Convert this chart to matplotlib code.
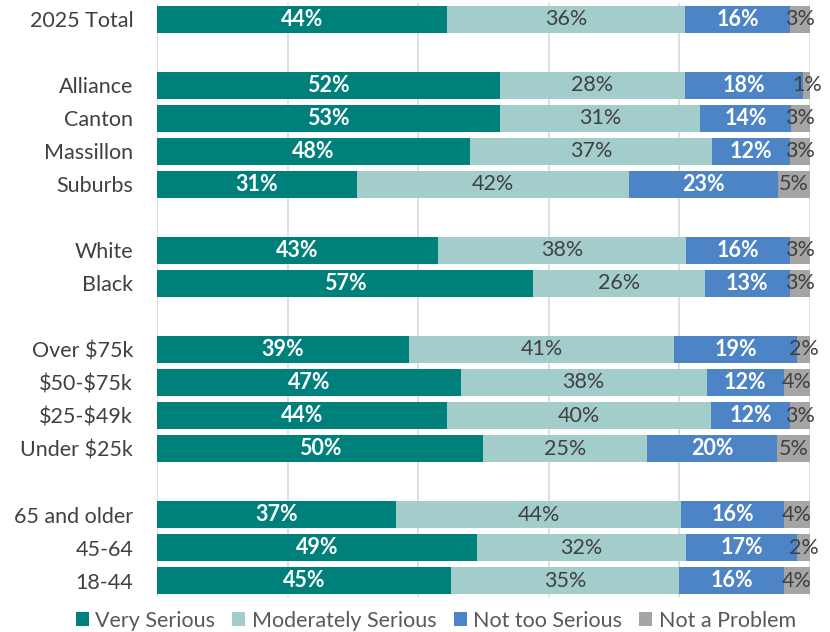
import matplotlib
matplotlib.use('Agg')
import matplotlib.pyplot as plt
import numpy as np

plt.rcParams['font.family'] = ['Lato', 'DejaVu Sans']

# Survey groups, top to bottom; None marks a spacer row between groups
groups = ['2025 Total', None,
          'Alliance', 'Canton', 'Massillon', 'Suburbs', None,
          'White', 'Black', None,
          'Over \\$75k', '\\$50-\\$75k', '\\$25-\\$49k', 'Under \\$25k', None,
          '65 and older', '45-64', '18-44']

very_serious = [44, None, 52, 53, 48, 31, None, 43, 57, None, 39, 47, 44, 50, None, 37, 49, 45]
moderately_serious = [36, None, 28, 31, 37, 42, None, 38, 26, None, 41, 38, 40, 25, None, 44, 32, 35]
not_too_serious = [16, None, 18, 14, 12, 23, None, 16, 13, None, 19, 12, 12, 20, None, 16, 17, 16]
not_a_problem = [3, None, 1, 3, 3, 5, None, 3, 3, None, 2, 4, 3, 5, None, 4, 2, 4]

series_names = ['Very Serious', 'Moderately Serious', 'Not too Serious', 'Not a Problem']
colors = ['#00807A', '#A2CDCB', '#4C84C6', '#A5A5A5']
label_colors = ['white', '#404040', 'white', '#404040']
label_weights = ['bold', 'normal', 'bold', 'normal']

fig = plt.figure(figsize=(8.3, 6.32), dpi=100)
ax = fig.add_axes([0.189, 0.055, 0.787, 0.941])

series = [very_serious, moderately_serious, not_too_serious, not_a_problem]
rows = [i for i, g in enumerate(groups) if g is not None]

# 100% stacked: each row scaled to its own total
for i in rows:
    vals = np.array([s[i] for s in series], dtype=float)
    shares = vals / vals.sum()
    left = 0.0
    for k, (v, w) in enumerate(zip(vals, shares)):
        ax.barh(i, w, left=left, height=0.82, color=colors[k], zorder=2,
                label=series_names[k] if i == rows[0] else None)
        ax.text(left + w / 2, i, f'{int(v)}%', ha='center', va='center',
                color=label_colors[k], fontweight=label_weights[k],
                fontsize=15.5, zorder=3)
        left += w

ax.set_xlim(0, 1)
ax.set_ylim(len(groups) - 0.5, -0.5)
ax.set_xticks(np.arange(0, 1.01, 0.2))
ax.set_xticklabels([])
ax.tick_params(axis='x', length=0)
ax.xaxis.grid(True, color='#D9D9D9', linewidth=1.2, zorder=0)
ax.set_axisbelow(True)

ax.set_yticks(rows)
ax.set_yticklabels([groups[i] for i in rows], fontsize=15.5, color='#404040')
ax.tick_params(axis='y', length=0, pad=17)

for side in ['top', 'right', 'bottom', 'left']:
    ax.spines[side].set_visible(False)

handles, labels = ax.get_legend_handles_labels()
fig.legend(handles, labels, loc='center', bbox_to_anchor=(0.525, 0.018),
           ncol=4, frameon=False, fontsize=15.5, handlelength=0.6, handleheight=0.6,
           handletextpad=0.3, columnspacing=0.8, labelcolor='#595959',
           borderpad=0)

plt.savefig('out.png', dpi=100)
